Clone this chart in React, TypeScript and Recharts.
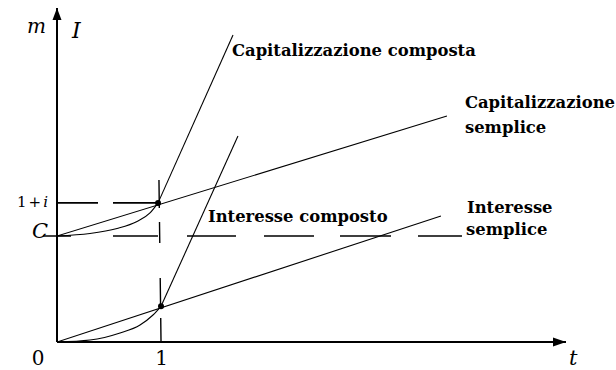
import React from 'react';
import { LineChart, Line, XAxis, YAxis, ReferenceLine, ReferenceDot } from 'recharts';

// axis ranges (t in periods, vertical in units of capital)
const T_MAX = 4.942;
const Y_MAX = 3.181;

// levels
const C = 1.01;
const ONE_PLUS_I = 1.325;
const I_AT_ONE = 0.34;

// series
const capSemplice = [
  { x: 0, y: 1.01 },
  { x: 3.786, y: 2.152 },
];
const intSemplice = [
  { x: 0, y: 0 },
  { x: 3.728, y: 1.2 },
];
const capCompostaLow = [
  { x: 0, y: 1.01 },
  { x: 0.32, y: 1.033 },
  { x: 0.583, y: 1.081 },
  { x: 0.777, y: 1.148 },
  { x: 0.903, y: 1.229 },
  { x: 0.981, y: 1.325 },
];
const capCompostaHigh = [
  { x: 0.981, y: 1.325 },
  { x: 1.709, y: 2.924 },
];
const intCompostoLow = [
  { x: 0, y: 0 },
  { x: 0.32, y: 0.019 },
  { x: 0.612, y: 0.086 },
  { x: 0.806, y: 0.162 },
  { x: 0.932, y: 0.257 },
  { x: 1.01, y: I_AT_ONE },
];
const intCompostoHigh = [
  { x: 1.01, y: I_AT_ONE },
  { x: 1.757, y: 1.962 },
];

// tick labels on the t axis
const tTicks = [
  { t: 0, label: '0' },
  { t: 1, label: '1' },
];

const SERIF = '"DejaVu Serif", serif';

const txt =
  (content: React.ReactNode, dx: number, dy: number, style: any = {}) =>
  (p: any) => (
    <text
      x={p.cx + dx}
      y={p.cy + dy}
      fontFamily={SERIF}
      fill='#000'
      {...style}
    >
      {content}
    </text>
  );

const bold = { fontWeight: 'bold', fontSize: 16.4 };
const italic = { fontStyle: 'italic' };

const App: React.FC = () => {
  const lineProps = {
    dataKey: 'y',
    stroke: '#000',
    strokeWidth: 1.1,
    dot: false,
    activeDot: false,
    isAnimationActive: false,
  } as const;

  return (
    <div style={{ position: 'absolute', left: 0, top: 0, background: '#fff' }}>
      <LineChart
        width={616}
        height={370}
        margin={{ top: 8, right: 50, bottom: 28, left: 57 }}
      >
        <XAxis dataKey='x' type='number' domain={[0, T_MAX]} allowDataOverflow hide />
        <YAxis type='number' domain={[0, Y_MAX]} allowDataOverflow hide />

        {/* axes */}
        <ReferenceLine
          segment={[{ x: 0, y: 0 }, { x: T_MAX, y: 0 }]}
          stroke='#000'
          strokeWidth={2}
          ifOverflow='visible'
        />
        <ReferenceLine
          segment={[{ x: 0, y: 0 }, { x: 0, y: Y_MAX }]}
          stroke='#000'
          strokeWidth={2}
          ifOverflow='visible'
        />

        {/* dashed guides */}
        <ReferenceLine
          segment={[{ x: 0, y: ONE_PLUS_I }, { x: 0.981, y: ONE_PLUS_I }]}
          stroke='#000'
          strokeWidth={1.6}
          strokeDasharray='41 15 45'
          ifOverflow='visible'
        />
        <ReferenceLine
          segment={[{ x: -0.136, y: C }, { x: 3.932, y: C }]}
          stroke='#000'
          strokeWidth={1.6}
          strokeDasharray='28 42 45 29 49 28 50 26 51 27 46'
          ifOverflow='visible'
        />
        <ReferenceLine
          segment={[{ x: 0.99, y: 1.543 }, { x: 1.01, y: 0 }]}
          stroke='#000'
          strokeWidth={1.4}
          strokeDasharray='28 14 21 35 27 13 24'
          ifOverflow='visible'
        />

        <Line {...lineProps} data={capSemplice} type='linear' />
        <Line {...lineProps} data={intSemplice} type='linear' />
        <Line {...lineProps} data={capCompostaLow} type='monotone' />
        <Line {...lineProps} data={capCompostaHigh} type='linear' />
        <Line {...lineProps} data={intCompostoLow} type='monotone' />
        <Line {...lineProps} data={intCompostoHigh} type='linear' />

        {/* arrow heads */}
        <ReferenceDot
          x={0}
          y={Y_MAX}
          ifOverflow='visible'
          shape={(p: any) => (
            <polygon
              points={`${p.cx},${p.cy} ${p.cx - 4.5},${p.cy + 12} ${p.cx + 4.5},${p.cy + 12}`}
              fill='#000'
            />
          )}
        />
        <ReferenceDot
          x={T_MAX}
          y={0}
          ifOverflow='visible'
          shape={(p: any) => (
            <polygon
              points={`${p.cx},${p.cy} ${p.cx - 13},${p.cy - 4.5} ${p.cx - 13},${p.cy + 4.5}`}
              fill='#000'
            />
          )}
        />

        {/* intersection dots */}
        <ReferenceDot x={0.981} y={ONE_PLUS_I} r={3} fill='#000' stroke='none' ifOverflow='visible' />
        <ReferenceDot x={1.01} y={I_AT_ONE} r={3} fill='#000' stroke='none' ifOverflow='visible' />

        {/* axis names and ticks */}
        <ReferenceDot x={0} y={Y_MAX} ifOverflow='visible'
          shape={txt('m', -11, 25, { ...italic, fontSize: 20, textAnchor: 'end' })} />
        <ReferenceDot x={0} y={Y_MAX} ifOverflow='visible'
          shape={txt('I', 15, 30, { ...italic, fontSize: 22 })} />
        <ReferenceDot x={T_MAX} y={0} ifOverflow='visible'
          shape={txt('t', 3, 23, { ...italic, fontSize: 21 })} />
        {tTicks.map((k) => (
          <ReferenceDot key={k.t} x={k.t} y={0} ifOverflow='visible'
            shape={txt(k.label, k.t === 0 ? -19 : 1.5, 23, { fontSize: 20, textAnchor: 'middle' })} />
        ))}
        <ReferenceDot x={0} y={C} ifOverflow='visible'
          shape={txt('C', -9, 2, { ...italic, fontSize: 21, textAnchor: 'end' })} />
        <ReferenceDot x={0} y={ONE_PLUS_I} ifOverflow='visible'
          shape={txt(
            <>1+<tspan fontStyle='italic'>i</tspan></>,
            -7, 4, { fontSize: 15, textAnchor: 'end', letterSpacing: 2 })} />

        {/* series names */}
        <ReferenceDot x={1.699} y={2.724} ifOverflow='visible'
          shape={txt('Capitalizzazione composta', 0, 0, bold)} />
        <ReferenceDot x={3.961} y={2.229} ifOverflow='visible'
          shape={txt('Capitalizzazione', 0, 0, bold)} />
        <ReferenceDot x={3.961} y={2.229} ifOverflow='visible'
          shape={txt('semplice', 0, 25, bold)} />
        <ReferenceDot x={1.466} y={1.143} ifOverflow='visible'
          shape={txt('Interesse composto', 0, 0, bold)} />
        <ReferenceDot x={3.981} y={1.229} ifOverflow='visible'
          shape={txt('Interesse', 0, 0, bold)} />
        <ReferenceDot x={3.981} y={1.229} ifOverflow='visible'
          shape={txt('semplice', -1, 22, bold)} />
      </LineChart>
    </div>
  );
};

export default App;
